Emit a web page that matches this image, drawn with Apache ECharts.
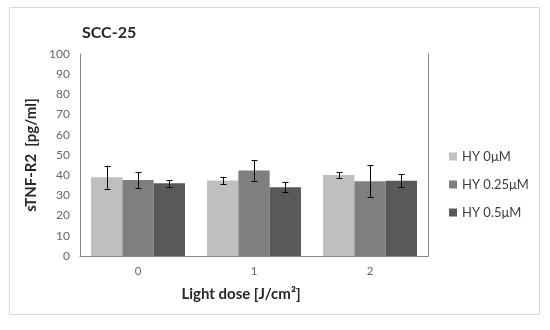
<!DOCTYPE html>
<html>
<head>
<meta charset="utf-8">
<script src="https://cdn.jsdelivr.net/npm/echarts@6/dist/echarts.min.js"></script>
<style>html,body{margin:0;padding:0;background:#fff}#c{width:550px;height:330px}</style>
</head>
<body>
<div id="c"></div>
<script>
const categories = ['0', '1', '2'];
const seriesNames = ['HY 0\u03bcM', 'HY 0.25\u03bcM', 'HY 0.5\u03bcM'];
const hy0 = [39.0, 37.4, 40.1];
const hy025 = [37.6, 42.3, 37.0];
const hy05 = [36.0, 34.0, 37.3];
const err0 = [5.7, 1.8, 1.4];
const err025 = [4.0, 5.0, 7.9];
const err05 = [1.6, 2.5, 3.3];
const yTicks = [0, 10, 20, 30, 40, 50, 60, 70, 80, 90, 100];

const values = [hy0, hy025, hy05];
const errors = [err0, err025, err05];
const colors = ['#bfbfbf', '#7f7f7f', '#595959'];
const font = 'Lato, "Open Sans", sans-serif';
const catGap = 0.19;

const chart = echarts.init(document.getElementById('c'));
const series = [];
values.forEach((v, i) => {
  series.push({
    type: 'bar', name: seriesNames[i], data: v,
    itemStyle: { color: colors[i] },
    barGap: '0%', barCategoryGap: (catGap * 100) + '%',
    xAxisIndex: 0, yAxisIndex: 0
  });
});
values.forEach((v, i) => {
  series.push({
    type: 'custom', name: seriesNames[i] + ' err', z: 5,
    xAxisIndex: 0, yAxisIndex: 0,
    data: v.map((val, k) => [k, val - errors[i][k], val + errors[i][k]]),
    renderItem: function (params, api) {
      const k = api.value(0);
      const catW = api.size([1, 0])[0];
      const bw = catW * (1 - catGap) / 3;
      const lo = api.coord([k, api.value(1)]);
      const hi = api.coord([k, api.value(2)]);
      const x = Math.round(lo[0] + (i - 1) * bw) + 0.5;
      const cap = 3;
      const st = { stroke: '#000', lineWidth: 1 };
      return {
        type: 'group',
        children: [
          { type: 'line', shape: { x1: x, y1: hi[1], x2: x, y2: lo[1] }, style: st },
          { type: 'line', shape: { x1: x - cap, y1: Math.round(hi[1]) + 0.5, x2: x + cap, y2: Math.round(hi[1]) + 0.5 }, style: st },
          { type: 'line', shape: { x1: x - cap, y1: Math.round(lo[1]) + 0.5, x2: x + cap, y2: Math.round(lo[1]) + 0.5 }, style: st }
        ]
      };
    }
  });
});

chart.setOption({
  animation: false,
  textStyle: { fontFamily: font },
  title: {
    text: 'SCC-25', left: 77, top: 20,
    textStyle: { fontSize: 16, fontWeight: 'bold', color: '#262626', fontFamily: font }
  },
  graphic: [{
    type: 'rect', shape: { x: 9.5, y: 7.5, width: 530, height: 307 },
    style: { fill: 'none', stroke: '#d9d9d9', lineWidth: 1 }, silent: true, z: -1
  }],
  legend: {
    orient: 'vertical', left: 444, top: 145,
    itemWidth: 8, itemHeight: 8, itemGap: 15, icon: 'rect',
    data: seriesNames,
    textStyle: { fontSize: 13, color: '#404040', fontFamily: font }
  },
  grid: { left: 80, top: 54, width: 348, height: 202, containLabel: false },
  xAxis: [{
    type: 'category', data: categories, position: 'bottom',
    axisLine: { lineStyle: { color: '#d9d9d9' } },
    axisTick: { show: false },
    axisLabel: { color: '#666666', fontSize: 11.5, margin: 9 },
    name: 'Light dose [J/cm\u00b2]', nameLocation: 'middle', nameGap: 31,
    nameTextStyle: { fontSize: 15, fontWeight: 'bold', color: '#262626', padding: [0, 26, 0, 0] }
  }, {
    type: 'category', data: categories, position: 'top',
    axisLine: { lineStyle: { color: '#868686' } },
    axisTick: { show: false }, axisLabel: { show: false }
  }],
  yAxis: [{
    type: 'value', min: 0, max: 100, interval: 10,
    axisLine: { show: true, lineStyle: { color: '#868686' } },
    axisTick: { show: false },
    splitLine: { show: false },
    axisLabel: { color: '#666666', fontSize: 12, margin: 10,
      formatter: v => yTicks.includes(v) ? String(v) : '' },
    name: 'sTNF-R2  [pg/ml]', nameLocation: 'middle', nameRotate: 90, nameGap: 33,
    nameTextStyle: { fontSize: 15, fontWeight: 'bold', color: '#262626' }
  }, {
    type: 'value', min: 0, max: 100, interval: 10, position: 'right',
    axisLine: { show: true, lineStyle: { color: '#868686' } },
    axisTick: { show: false }, axisLabel: { show: false }, splitLine: { show: false }
  }],
  series: series
});
</script>
</body>
</html>
